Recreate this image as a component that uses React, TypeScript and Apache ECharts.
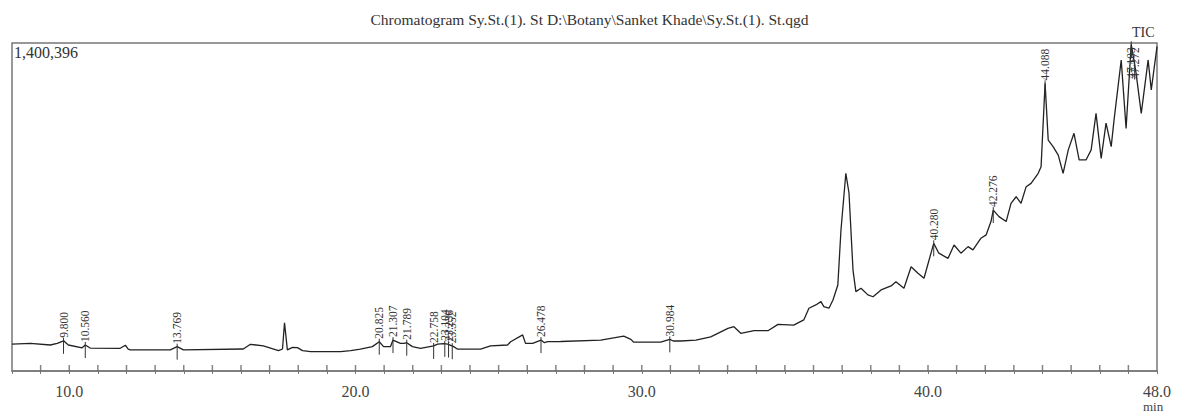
import React, { useEffect, useRef } from "react";
import * as echarts from "echarts";

const titleText = "Chromatogram Sy.St.(1). St D:\\Botany\\Sanket Khade\\Sy.St.(1). St.qgd";
const maxLabel = "1,400,396";
const yMax = 1400396;

const times = [
  8.0, 8.64, 9.34, 9.58, 9.8, 9.97, 10.45, 10.56, 10.73, 11.78, 11.96, 12.06, 12.13, 13.53, 13.77, 13.99,
  16.08, 16.33, 16.78, 17.31, 17.45, 17.52, 17.62, 17.8, 17.97, 18.15, 18.43, 19.48, 19.83, 20.17, 20.59,
  20.83, 20.98, 21.22, 21.31, 21.57, 21.7, 21.79, 21.99, 22.27, 22.73, 22.87, 23.08, 23.22, 23.43, 23.57,
  24.37, 24.72, 25.31, 25.42, 25.84, 25.94, 26.19, 26.48, 26.6, 26.71, 27.17, 28.57, 29.37, 29.62, 29.72,
  30.66, 30.98, 31.1, 31.36, 31.89, 32.41, 33.01, 33.22, 33.46, 33.92, 34.41, 34.76, 35.31, 35.66, 35.84,
  36.08, 36.26, 36.36, 36.54, 36.68, 36.85, 36.96, 37.13, 37.24, 37.38, 37.48, 37.66, 37.9, 38.08, 38.36,
  38.71, 38.88, 39.16, 39.41, 39.65, 39.86, 40.2, 40.38, 40.7, 40.91, 41.15, 41.4, 41.57, 41.85, 42.03,
  42.2, 42.28, 42.48, 42.73, 42.9, 43.08, 43.25, 43.43, 43.6, 43.85, 43.95, 44.09, 44.2, 44.37, 44.55,
  44.72, 44.9, 45.1, 45.28, 45.52, 45.7, 45.87, 46.05, 46.22, 46.4, 46.5, 46.75, 46.92, 47.1, 47.27,
  47.45, 47.69, 47.8, 48.0,
];

const intensities = [
  115000, 118000, 111000, 118000, 129000, 111000, 99000, 111000, 98000, 97000, 110000, 93000, 90000, 90000, 104000, 90000,
  94000, 114000, 107000, 87000, 94000, 206000, 90000, 101000, 100000, 87000, 83000, 83000, 87000, 93000, 104000,
  125000, 104000, 104000, 132000, 118000, 118000, 121000, 104000, 97000, 107000, 115000, 117000, 115000, 104000, 93000,
  93000, 107000, 111000, 125000, 154000, 118000, 118000, 132000, 121000, 125000, 126000, 132000, 149000, 135000, 123000,
  123000, 135000, 128000, 128000, 132000, 146000, 182000, 189000, 161000, 172000, 172000, 199000, 196000, 218000, 268000,
  282000, 296000, 275000, 268000, 303000, 367000, 602000, 844000, 760000, 431000, 339000, 353000, 325000, 317000, 346000,
  363000, 381000, 353000, 445000, 417000, 396000, 545000, 503000, 481000, 538000, 503000, 531000, 517000, 567000, 581000,
  638000, 687000, 659000, 638000, 716000, 744000, 716000, 787000, 801000, 844000, 872000, 1228000, 986000, 958000, 922000,
  844000, 944000, 1015000, 901000, 901000, 944000, 1100000, 908000, 1058000, 958000, 1072000, 1328000, 1036000, 1395000, 1271000,
  1100000, 1328000, 1200000, 1385000,
];

const peakLabels = [
  "9.800", "10.560", "13.769", "20.825", "21.307", "21.789", "22.758", "23.104", "23.236", "23.352",
  "26.478", "30.984", "40.280", "42.276", "44.088", "47.103", "47.272",
];
const peakTimes = [9.8, 10.56, 13.77, 20.83, 21.31, 21.79, 22.73, 23.12, 23.25, 23.38, 26.48, 30.98, 40.2, 42.28, 44.09, 47.1, 47.22];
const peakHeights = [
  129000, 111000, 104000, 125000, 132000, 121000, 107000, 116000, 113000, 106000,
  132000, 135000, 545000, 687000, 1228000, 1395000, 1300000,
];

const xTickLabels = [10, 20, 30, 40, 48];
const xTickValues = [
  9, 10, 11, 12, 13, 14, 15, 16, 17, 18, 19, 20, 21, 22, 23, 24, 25, 26, 27, 28,
  29, 30, 31, 32, 33, 34, 35, 36, 37, 38, 39, 40, 41, 42, 43, 44, 45, 46, 47,
];

const serif = '"Liberation Serif", "Times New Roman", serif';

export default function App() {
  const ref = useRef<HTMLDivElement>(null);
  useEffect(() => {
    if (!ref.current) return;
    const chart = echarts.init(ref.current, undefined, { renderer: "svg" });
    const gridTop = 43;
    chart.setOption({
      animation: false,
      backgroundColor: "#ffffff",
      title: {
        text: titleText,
        left: "center",
        top: 6,
        textStyle: { fontFamily: serif, fontSize: 15.5, fontWeight: "normal", color: "#333" },
      },
      grid: {
        left: 12,
        right: 22,
        top: gridTop,
        bottom: 48,
        show: true,
        borderColor: "#777",
        borderWidth: 1.5,
        backgroundColor: "transparent",
      },
      xAxis: {
        type: "value",
        min: 8,
        max: 48,
        interval: 1,
        axisLine: { show: true, lineStyle: { color: "#777", width: 1.5 } },
        axisTick: { show: true, inside: false, length: 3, lineStyle: { color: "#777", width: 1 } },
        splitLine: { show: false },
        axisLabel: {
          margin: 12,
          fontFamily: serif,
          fontSize: 16,
          color: "#444",
          showMinLabel: true,
          showMaxLabel: true,
          formatter: (v: number) => (xTickLabels.indexOf(Math.round(v)) >= 0 && Math.abs(v - Math.round(v)) < 1e-6 ? v.toFixed(1) : ""),
        },
      },
      yAxis: {
        type: "value",
        min: 0,
        max: yMax,
        show: false,
      },
      graphic: [
        {
          type: "text",
          left: 14,
          top: 44,
          style: { text: maxLabel, font: `16px ${serif}`, fill: "#333" },
        },
        {
          type: "text",
          left: 1132,
          top: 25,
          style: { text: "TIC", font: `14px ${serif}`, fill: "#333" },
        },
        {
          type: "text",
          left: 1143,
          top: 400,
          style: { text: "min", font: `13px ${serif}`, fill: "#444" },
        },
      ],
      series: [
        {
          type: "line",
          data: times.map((t, i) => [t, intensities[i]]),
          showSymbol: false,
          symbol: "none",
          lineStyle: { color: "#222", width: 1.3 },
          z: 3,
        },
        {
          type: "scatter",
          data: xTickValues.map((v) => [v, 0]),
          symbol: "rect",
          symbolSize: [1.5, 6],
          symbolOffset: [0, -3],
          itemStyle: { color: "#666" },
          clip: false,
          silent: true,
          z: 6,
        },
        {
          type: "custom",
          coordinateSystem: "cartesian2d",
          data: peakTimes.map((t, i) => [t, peakHeights[i]]),
          encode: { x: 0, y: 1 },
          z: 4,
          renderItem: (params: any, api: any) => {
            const p = api.coord([api.value(0), api.value(1)]);
            const label = peakLabels[params.dataIndex];
            const len = label.length * 5.8;
            let ty = p[1] - 3;
            if (ty - len < gridTop + 1) ty = gridTop + 1 + len;
            return {
              type: "group",
              children: [
                {
                  type: "line",
                  shape: { x1: p[0], y1: p[1] - 3, x2: p[0], y2: p[1] + 13 },
                  style: { stroke: "#333", lineWidth: 1 },
                },
                {
                  type: "text",
                  x: p[0],
                  y: ty,
                  rotation: Math.PI / 2,
                  style: {
                    text: label,
                    fontSize: 11.5,
                    fontFamily: serif,
                    fill: "#333",
                    align: "left",
                    verticalAlign: "middle",
                  },
                },
              ],
            };
          },
        },
      ],
    });
    return () => chart.dispose();
  }, []);
  return <div ref={ref} style={{ position: "absolute", left: 0, top: 0, width: 1179, height: 419 }} />;
}
